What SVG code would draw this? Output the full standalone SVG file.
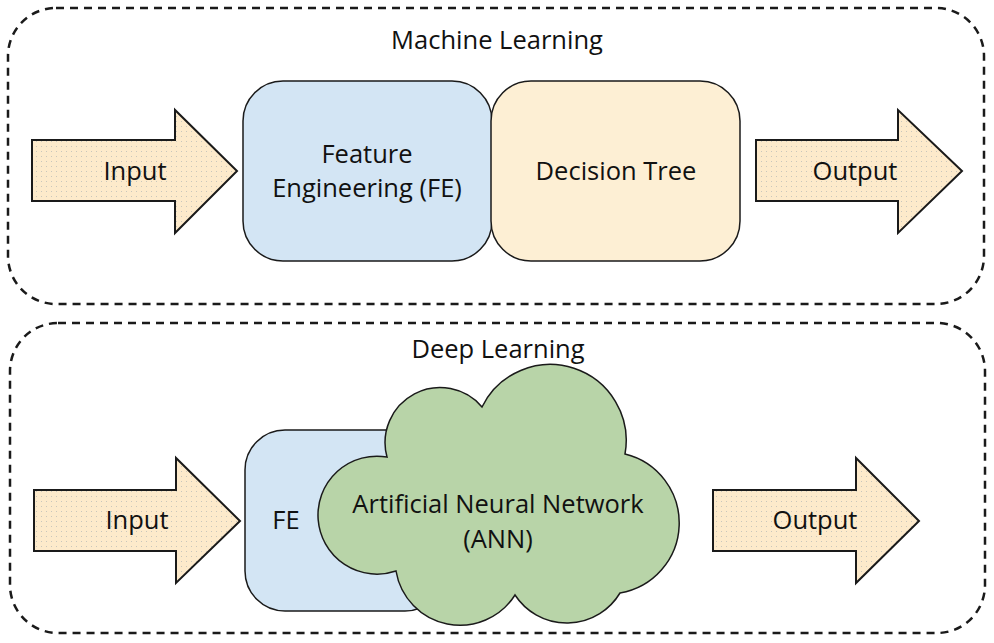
<svg xmlns="http://www.w3.org/2000/svg" width="994" height="643" viewBox="0 0 994 643">
<defs>
<pattern id="dots" width="5" height="5" patternUnits="userSpaceOnUse">
<rect width="5" height="5" fill="#fdeacb"/>
<rect x="1" y="1" width="1" height="1" fill="#c9c6bb"/>
</pattern>
<style>
.frame{fill:none;stroke:#1a1a1a;stroke-width:2.5;stroke-dasharray:8 6}
.arrow{fill:url(#dots);stroke:#1a1a1a;stroke-width:2}
.box{stroke:#1a1a1a;stroke-width:1.5}
.t{font-family:"Open Sans","Liberation Sans",Arial,sans-serif;font-size:25.5px;fill:#111;text-anchor:middle}
</style>
</defs>
<rect width="994" height="643" fill="#fff"/>
<g id="ml-frame">
<rect class="frame" x="8" y="8" width="976" height="296" rx="48" ry="48"/>
<text class="t" x="497" y="49">Machine Learning</text>
</g>
<g id="dl-frame">
<rect class="frame" x="10" y="323" width="975" height="310" rx="48" ry="48"/>
<text class="t" x="498" y="358">Deep Learning</text>
</g>
<g id="connectors">
<g id="ml-input">
<path class="arrow" d="M32,140 H175 V110 L237,171 L175,233 V201 H32 Z"/>
<text class="t" x="135" y="180">Input</text>
</g>
<g id="ml-output">
<path class="arrow" d="M756,140 H898 V110 L962,171 L898,233 V201 H756 Z"/>
<text class="t" x="855" y="180">Output</text>
</g>
<g id="dl-input">
<path class="arrow" d="M34,490 H176 V458 L240,521 L176,583 V551 H34 Z"/>
<text class="t" x="137" y="529">Input</text>
</g>
<g id="dl-output">
<path class="arrow" d="M713,490 H856 V458 L919,521 L856,583 V551 H713 Z"/>
<text class="t" x="815" y="529">Output</text>
</g>
</g>
<g id="ml-fe">
<rect class="box" x="243" y="81" width="249" height="180" rx="40" ry="40" fill="#d3e5f4"/>
<text class="t" x="367" y="163">Feature</text>
<text class="t" x="367" y="197">Engineering (FE)</text>
</g>
<g id="ml-dt">
<rect class="box" x="491" y="81" width="249" height="180" rx="40" ry="40" fill="#fdefd4"/>
<text class="t" x="616" y="180">Decision Tree</text>
</g>
<g id="dl-fe">
<rect class="box" x="245" y="430" width="200" height="181" rx="40" ry="40" fill="#d3e5f4"/>
<text class="t" x="286" y="529">FE</text>
</g>
<g id="dl-ann">
<path class="box" fill="#b8d4a8" d="M387,457 A55,55 0 0 1 482,407 A76,76 0 0 1 625,454 A71,71 0 0 1 620,593 A62,62 0 0 1 515,595 A65,65 0 0 1 396,571 A59,59 0 1 1 387,457 Z"/>
<text class="t" x="498" y="513">Artificial Neural Network</text>
<text class="t" x="498" y="548">(ANN)</text>
</g>
</svg>
